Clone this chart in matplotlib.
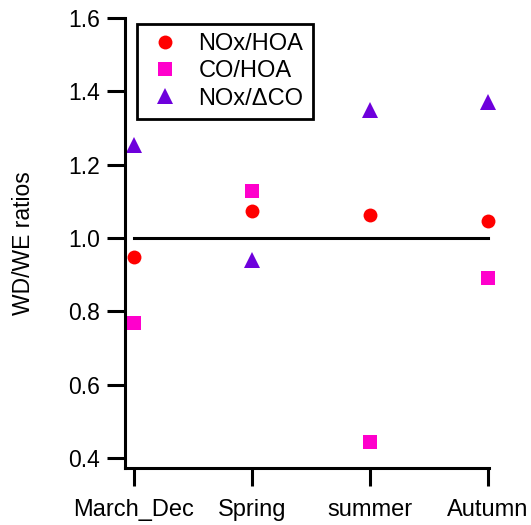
import matplotlib
matplotlib.use('Agg')
import matplotlib.pyplot as plt

# 数据
seasons = ['March_Dec', 'Spring', 'summer', 'Autumn']
nox_hoa = [0.948, 1.073, 1.063, 1.046]
co_hoa = [0.769, 1.128, 0.445, 0.891]
nox_dco = [1.253, 0.940, 1.350, 1.370]

plt.rcParams['font.family'] = ['Liberation Sans', 'DejaVu Sans']

fig = plt.figure(figsize=(5.31, 5.25), dpi=100)
ax = fig.add_axes([0.2354, 0.1086, 0.6855, 0.8571])

x = list(range(len(seasons)))
ax.plot(x, nox_hoa, 'o', color='#ff0000', ms=10, mew=0, label='NOx/HOA', clip_on=False)
ax.plot(x, co_hoa, 's', color='#ff00cc', ms=10.5, mew=0, label='CO/HOA', clip_on=False)
ax.plot(x, nox_dco, '^', color='#6e00dc', ms=12, mew=0, label='NOx/\u0394CO', clip_on=False)

# 参考线 y=1
ax.plot([x[0], x[-1]], [1.0, 1.0], color='black', lw=2.2, clip_on=False)

ax.set_xlim(-0.076, 3.01)
ax.set_ylim(0.373, 1.6)
ax.set_xticks(x)
ax.set_xticklabels(seasons, fontsize=17)
ax.set_yticks([0.4, 0.6, 0.8, 1.0, 1.2, 1.4, 1.6])
ax.set_ylabel('WD/WE ratios', fontsize=16.5, labelpad=24)

for s in ['top', 'right']:
    ax.spines[s].set_visible(False)
for s in ['left', 'bottom']:
    ax.spines[s].set_linewidth(2.2)
ax.tick_params(axis='both', direction='out', length=13, width=2.2, pad=5)
ax.tick_params(axis='x', pad=9)
ax.tick_params(axis='y', labelsize=16.5)

leg = ax.legend(loc='upper left', bbox_to_anchor=(0.033, 0.987), borderaxespad=0,
                fancybox=False, framealpha=1, fontsize=17, handletextpad=0.6,
                labelspacing=0.22, borderpad=0.4, handlelength=1.6)
leg.get_frame().set_edgecolor('black')
leg.get_frame().set_linewidth(2)

fig.savefig('out.png', dpi=100)
